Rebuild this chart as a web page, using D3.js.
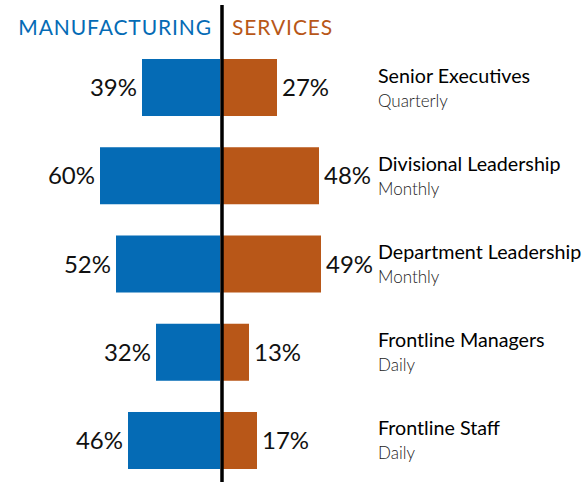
<!DOCTYPE html>
<html><head><meta charset="utf-8">
<script src="https://cdn.jsdelivr.net/npm/d3@7"></script>
<style>body{margin:0;background:#fff}svg{display:block}text{font-family:Lato,"Open Sans",sans-serif}</style>
</head><body><svg id="c" width="585" height="482"></svg>
<script>
const categories = ["Senior Executives","Divisional Leadership","Department Leadership","Frontline Managers","Frontline Staff"];
const frequency = ["Quarterly","Monthly","Monthly","Daily","Daily"];
const manufacturing = [39,60,52,32,46];
const services = [27,48,49,13,17];
const seriesNames = ["MANUFACTURING","SERVICES"];

const blue = "#056BB5", orange = "#B85718";
const svg = d3.select("#c");
const cx = 222;
const y = d3.scaleBand().domain(categories).range([59,469]).paddingInner(0.354).paddingOuter(0);
const xl = d3.scaleLinear().domain([0,100]).range([cx-2, cx-2-200]);
const xr = d3.scaleLinear().domain([0,100]).range([cx+1, cx+1+200]);

categories.forEach((c,i)=>{
  const yy = y(c), h = y.bandwidth(), mid = yy + h/2;
  svg.append("rect").attr("x", xl(manufacturing[i])).attr("y", yy).attr("width", xl(0)-xl(manufacturing[i])).attr("height", h).attr("fill", blue);
  svg.append("rect").attr("x", xr(0)).attr("y", yy).attr("width", xr(services[i])-xr(0)).attr("height", h).attr("fill", orange);
  svg.append("text").attr("x", xl(manufacturing[i])-5).attr("y", mid+8.5).attr("text-anchor","end").attr("font-size",24).attr("fill","#111").text(manufacturing[i]+"%");
  svg.append("text").attr("x", xr(services[i])+5).attr("y", mid+8.5).attr("text-anchor","start").attr("font-size",24).attr("fill","#111").text(services[i]+"%");
  svg.append("text").attr("x", 378).attr("y", mid-5).attr("font-size",19.7).attr("fill","#000").text(c);
  svg.append("text").attr("x", 378).attr("y", mid+19).attr("font-size",17).attr("font-weight",300).attr("fill","#222").text(frequency[i]);
});

svg.append("line").attr("x1",cx).attr("x2",cx).attr("y1",5).attr("y2",482).attr("stroke","#000").attr("stroke-width",3.5);
svg.append("text").attr("x",212).attr("y",35).attr("text-anchor","end").attr("font-size",21).attr("letter-spacing",0.9).attr("fill",blue).text(seriesNames[0]);
svg.append("text").attr("x",232).attr("y",35).attr("text-anchor","start").attr("font-size",21).attr("letter-spacing",0.9).attr("fill",orange).text(seriesNames[1]);
</script></body></html>
